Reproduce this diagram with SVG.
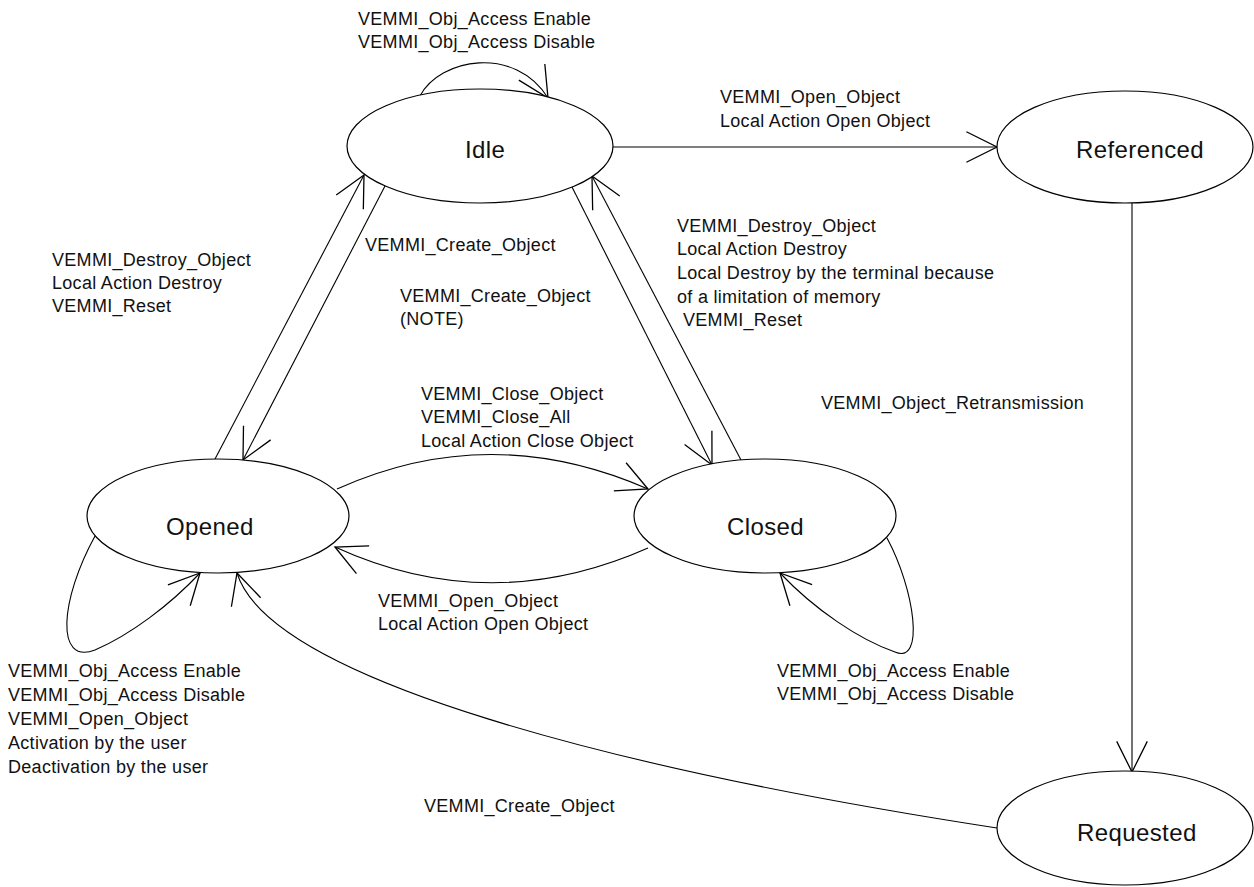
<svg xmlns="http://www.w3.org/2000/svg" width="1254" height="887" viewBox="0 0 1254 887">
  <style>
    .state { fill: #fff; stroke: #000; stroke-width: 1.2; }
    .name { font-family: "Liberation Sans", Arial, sans-serif; font-size: 24px; letter-spacing: 0.4px; fill: #111; }
    .lbl { font-family: "Liberation Sans", Arial, sans-serif; font-size: 18px; letter-spacing: 0.3px; fill: #111; }
    .edge { fill: none; stroke: #000; stroke-width: 1.1; marker-end: url(#arrow); }
  </style>
  <defs>
    <marker id="arrow" markerUnits="userSpaceOnUse" markerWidth="40" markerHeight="40" viewBox="-30 -16 34 32" refX="0" refY="0" orient="auto" overflow="visible">
      <path d="M-26,-13 L0,0 L-26,13" fill="none" stroke="#000" stroke-width="1.1"/>
    </marker>
  </defs>

  <rect width="1254" height="887" fill="#fff"/>

  <!-- transitions -->
  <g id="connectors">
    <path class="edge" d="M420,96 C440,58 515,45 548,98"/>
    <path class="edge" d="M613,147 L997,147"/>
    <path class="edge" d="M1132,203 L1132,772"/>
    <path class="edge" d="M215,459 L364,175"/>
    <path class="edge" d="M385,186 L243,460"/>
    <path class="edge" d="M572,187 L712,465"/>
    <path class="edge" d="M741,460 L592,176"/>
    <path class="edge" d="M337,489 Q490,420 648,489"/>
    <path class="edge" d="M648,548 Q490,618 335,547"/>
    <path class="edge" d="M95,536 C60,600 55,665 95,650 C130,635 170,605 200,573"/>
    <path class="edge" d="M887,538 C915,590 925,665 895,652 C860,640 815,610 780,573"/>
    <path class="edge" d="M997,828 C620,770 270,680 237,573"/>
  </g>

  <!-- states -->
  <g id="idle">
    <ellipse class="state" cx="480" cy="146" rx="133" ry="57"/>
    <text class="name" x="465" y="158">Idle</text>
  </g>
  <g id="referenced">
    <ellipse class="state" cx="1125" cy="147" rx="128" ry="56"/>
    <text class="name" x="1076" y="158">Referenced</text>
  </g>
  <g id="opened">
    <ellipse class="state" cx="218" cy="516" rx="131" ry="57"/>
    <text class="name" x="166" y="535">Opened</text>
  </g>
  <g id="closed">
    <ellipse class="state" cx="765" cy="516" rx="131" ry="57"/>
    <text class="name" x="727" y="535">Closed</text>
  </g>
  <g id="requested">
    <ellipse class="state" cx="1125" cy="828" rx="128" ry="57"/>
    <text class="name" x="1077" y="841">Requested</text>
  </g>

  <!-- transition labels -->
  <g id="labels">
    <text class="lbl" x="358" y="25">VEMMI_Obj_Access Enable</text>
    <text class="lbl" x="358" y="48">VEMMI_Obj_Access Disable</text>

    <text class="lbl" x="720" y="103">VEMMI_Open_Object</text>
    <text class="lbl" x="720" y="127">Local Action Open Object</text>

    <text class="lbl" x="52" y="266">VEMMI_Destroy_Object</text>
    <text class="lbl" x="52" y="289">Local Action Destroy</text>
    <text class="lbl" x="52" y="312">VEMMI_Reset</text>

    <text class="lbl" x="365" y="251">VEMMI_Create_Object</text>
    <text class="lbl" x="400" y="302">VEMMI_Create_Object</text>
    <text class="lbl" x="400" y="325">(NOTE)</text>

    <text class="lbl" x="677" y="232">VEMMI_Destroy_Object</text>
    <text class="lbl" x="677" y="255">Local Action Destroy</text>
    <text class="lbl" x="677" y="279">Local Destroy by the terminal because</text>
    <text class="lbl" x="677" y="303">of a limitation of memory</text>
    <text class="lbl" x="683" y="326">VEMMI_Reset</text>

    <text class="lbl" x="821" y="409">VEMMI_Object_Retransmission</text>

    <text class="lbl" x="421" y="400">VEMMI_Close_Object</text>
    <text class="lbl" x="421" y="423">VEMMI_Close_All</text>
    <text class="lbl" x="421" y="447">Local Action Close Object</text>

    <text class="lbl" x="378" y="607">VEMMI_Open_Object</text>
    <text class="lbl" x="378" y="630">Local Action Open Object</text>

    <text class="lbl" x="777" y="677">VEMMI_Obj_Access Enable</text>
    <text class="lbl" x="777" y="700">VEMMI_Obj_Access Disable</text>

    <text class="lbl" x="8" y="677">VEMMI_Obj_Access Enable</text>
    <text class="lbl" x="8" y="701">VEMMI_Obj_Access Disable</text>
    <text class="lbl" x="8" y="725">VEMMI_Open_Object</text>
    <text class="lbl" x="8" y="749">Activation by the user</text>
    <text class="lbl" x="8" y="773">Deactivation by the user</text>

    <text class="lbl" x="424" y="812">VEMMI_Create_Object</text>
  </g>
</svg>
